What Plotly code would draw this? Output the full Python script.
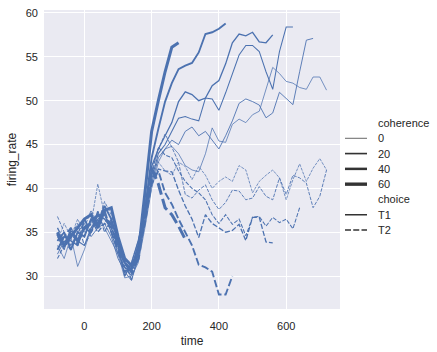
import plotly.graph_objects as go

# ---------------- data ----------------
times = list(range(-80, 721, 20))

t1_c0 = [33.5, 32.0, 34.5, 31.1, 33.0, 35.5, 37.0, 35.5, 34.0, 32.5, 29.8, 30.0, 31.5,
         35.5, 40.0, 43.0, 44.5, 44.8, 43.95, 42.6, 42.1, 41.9, 43.95, 46.9, 45.4, 45.25,
         47.3, 47.9, 47.5, 48.4, 48.8, 51.3, 53.8, 53.1, 52.2, 52.0, 51.5, 51.3, 52.7, 52.7, 51.2]
t1_c3 = [32.5, 34.0, 33.5, 35.0, 36.0, 34.5, 35.5, 36.0, 34.5, 32.0, 30.5, 29.5, 32.0,
         36.0, 40.5, 43.5, 44.5, 45.5, 45.0, 46.5, 47.0, 46.0, 46.5, 45.5, 44.5, 46.0,
         47.7, 49.7, 50.2, 49.9, 49.5, 48.05, 48.6, 50.96, 50.3, 49.55, 53.3, 56.9, 57.1]
t1_c6 = [34.5, 33.0, 35.5, 34.0, 33.5, 35.5, 36.5, 37.0, 35.0, 32.5, 31.0, 30.5, 33.0,
         36.5, 41.0, 44.0, 45.0, 46.5, 48.0, 48.2, 47.9, 47.7, 50.3, 50.2, 48.9, 50.9,
         53.1, 55.2, 56.3, 56.3, 55.6, 53.3, 51.3, 55.6, 58.4, 58.4]
t1_c13 = [33.0, 34.5, 34.0, 33.5, 35.5, 35.0, 37.0, 36.5, 35.5, 33.5, 30.0, 31.5, 34.0,
          37.0, 42.5, 44.5, 46.0, 47.5, 49.9, 51.0, 50.7, 50.0, 50.3, 51.7, 52.3, 54.2,
          56.6, 57.6, 57.4, 57.8, 56.7, 56.6, 57.5]
t1_c26 = [34.0, 35.0, 33.0, 35.0, 34.5, 36.5, 36.0, 38.0, 36.5, 34.0, 31.5, 30.8, 33.5,
          37.5, 43.5, 46.8, 49.9, 52.0, 53.6, 54.0, 54.3, 55.5, 57.6, 57.8, 58.2, 58.8]
t1_c51 = [35.0, 33.5, 34.5, 35.5, 36.5, 37.0, 35.5, 37.5, 37.8, 34.5, 32.0, 31.2, 32.5,
          39.5, 46.5, 50.0, 53.3, 56.1, 56.6]

t2_c0 = [34.0, 36.0, 34.5, 36.5, 35.0, 36.0, 40.5, 37.0, 35.5, 33.0, 30.5, 31.5, 34.0,
         38.0, 42.0, 43.0, 42.0, 41.5, 43.0, 42.5, 41.0, 42.5, 41.5, 40.0, 40.8, 41.3,
         40.8, 42.6, 42.1, 39.5, 40.8, 41.5, 42.1, 41.2, 38.7, 41.0, 42.8, 40.8, 42.3, 43.4, 42.1]
t2_c3 = [36.8, 35.0, 33.5, 34.5, 35.5, 37.5, 36.0, 38.5, 37.0, 34.5, 31.5, 31.0, 33.5,
         37.5, 42.0, 44.5, 46.2, 44.7, 43.0, 39.3, 38.9, 39.8, 40.4, 38.7, 37.6, 38.4,
         39.8, 39.7, 38.7, 38.9, 40.2, 39.1, 38.7, 41.2, 39.3, 41.5, 41.2, 40.6, 37.8, 39.1, 42.1]
t2_c6 = [32.0, 33.5, 34.5, 36.0, 33.5, 35.0, 37.5, 35.0, 36.5, 33.5, 32.0, 29.5, 32.5,
         37.0, 41.5, 44.7, 43.8, 43.5, 42.0, 40.8, 40.0, 39.5, 38.7, 37.0, 36.0, 37.0,
         35.9, 36.5, 34.6, 36.7, 36.8, 35.7, 36.7, 36.1, 36.5, 35.4, 37.8]
t2_c13 = [35.5, 34.0, 33.0, 35.0, 34.5, 36.5, 35.0, 36.0, 35.5, 34.0, 31.0, 30.0, 33.0,
          36.5, 41.0, 42.2, 42.0, 41.9, 39.8, 38.0, 36.5, 34.4, 37.0, 36.0, 35.5, 35.0,
          35.2, 35.9, 34.05, 36.7, 36.7, 33.9, 33.8]
t2_c26 = [33.0, 34.5, 35.5, 33.5, 36.5, 35.0, 36.5, 37.5, 35.0, 33.0, 30.5, 31.0, 32.5,
          36.0, 40.5, 42.0, 39.5, 38.2, 36.5, 35.0, 33.5, 31.3, 31.0, 30.5, 27.9, 27.9, 30.0]
t2_c51 = [34.8, 33.5, 35.0, 34.0, 35.5, 36.0, 37.0, 36.5, 36.0, 33.5, 31.5, 30.5, 32.0,
          37.0, 42.3, 40.5, 37.8, 37.0, 35.7, 34.2]

coherence_levels = [0.0, 3.2, 6.4, 12.8, 25.6, 51.2]
choices = ["T1", "T2"]
series = {
    "T1": [t1_c0, t1_c3, t1_c6, t1_c13, t1_c26, t1_c51],
    "T2": [t2_c0, t2_c3, t2_c6, t2_c13, t2_c26, t2_c51],
}
legend_sizes = [0, 20, 40, 60]
x_ticks = [0, 200, 400, 600]
y_ticks = [30, 35, 40, 45, 50, 55, 60]

# ---------------- style ----------------
BLUE = "#4C72B0"
TXT = "#262626"
HANDLE = "#333333"
FONT = "Liberation Sans, Arial, sans-serif"
cmin, cmax = min(coherence_levels), max(coherence_levels)


def lw(c):
    return 0.75 + (c - cmin) / (cmax - cmin) * 2.25


def dash_for(choice, w):
    if choice == "T1":
        return "solid"
    return f"{4 * w:.2f}px,{1.5 * w:.2f}px"


fig = go.Figure()
for choice in choices:
    for c, vals in zip(coherence_levels, series[choice]):
        w = lw(c)
        fig.add_trace(go.Scatter(
            x=times[:len(vals)], y=vals, mode="lines",
            line=dict(color=BLUE, width=w, dash=dash_for(choice, w)),
            showlegend=False, hoverinfo="skip",
        ))

W, H = 437, 352
L, R, T, B = 44, 97, 7, 42
pw, ph = W - L - R, H - T - B

fig.update_layout(
    width=W, height=H,
    margin=dict(l=L, r=R, t=T, b=B, pad=0),
    paper_bgcolor="white", plot_bgcolor="#EAEAF2",
    font=dict(family=FONT, size=11, color=TXT),
    showlegend=False,
)
fig.update_xaxes(
    range=[-120, 760], tickvals=x_ticks, ticks="", showline=False, zeroline=False,
    showgrid=True, gridcolor="white", gridwidth=1, ticklabelstandoff=9,
    title=dict(text="time", font=dict(size=12, color=TXT), standoff=5),
)
fig.update_yaxes(
    range=[26.25, 60.34], tickvals=y_ticks, ticks="", showline=False, zeroline=False,
    showgrid=True, gridcolor="white", gridwidth=1, ticklabelstandoff=5,
    title=dict(text="firing_rate", font=dict(size=12, color=TXT), standoff=6),
)

# ---------------- legend (drawn outside the axes) ----------------
def px_x(p):
    return (p - L) / pw


def px_y(p):
    return (H - B - p) / ph


hx0, hx1, tx = 345, 367, 376
y0, dy = 121.5, 15.5
entries = [("coherence", None, None)]
for s in legend_sizes:
    entries.append((str(s), lw(s), "solid"))
entries.append(("choice", None, None))
for ch in choices:
    entries.append((ch, 1.5, dash_for(ch, 1.5)))

for i, (label, w, d) in enumerate(entries):
    yy = y0 + i * dy
    fig.add_annotation(
        x=px_x(tx), y=px_y(yy), xref="paper", yref="paper", text=label,
        showarrow=False, xanchor="left", yanchor="middle",
        font=dict(family=FONT, size=11, color=TXT),
    )
    if w is not None:
        fig.add_shape(
            type="line", xref="paper", yref="paper",
            x0=px_x(hx0), x1=px_x(hx1), y0=px_y(yy), y1=px_y(yy),
            line=dict(color=HANDLE, width=w, dash=d),
        )

fig.write_html("out.html")
